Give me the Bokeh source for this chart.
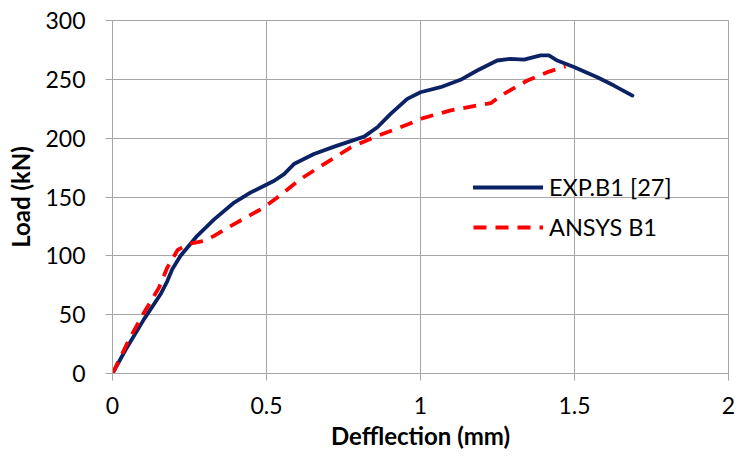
from bokeh.plotting import figure
from bokeh.models import Range1d, FixedTicker, Legend, LegendItem
from bokeh.embed import file_html
from bokeh.resources import INLINE

# Data
exp_x = [0, 0.043, 0.102, 0.156, 0.178, 0.194, 0.221, 0.275, 0.33, 0.395, 0.449,
         0.525, 0.557, 0.589, 0.654, 0.72, 0.817, 0.86, 0.903, 0.957, 1.0,
         1.065, 1.13, 1.184, 1.249, 1.292, 1.336, 1.39, 1.417, 1.444, 1.498,
         1.574, 1.628, 1.688]
exp_y = [0, 20.4, 46, 67.3, 78.6, 88.6, 100, 117, 131, 145.3, 153.9,
         163.8, 169.5, 178, 186.5, 192.8, 201.3, 209.3, 220.6, 233.4, 239,
         243.3, 249.6, 257.5, 266, 267.4, 266.8, 270.3, 270.3, 266, 260.4,
         251.8, 244.7, 236.2]

ansys_x = [0, 0.054, 0.102, 0.151, 0.178, 0.211, 0.243, 0.297, 0.33, 0.395,
           0.492, 0.535, 0.611, 0.687, 0.774, 0.849, 0.968, 1.011, 1.098,
           1.184, 1.228, 1.271, 1.347, 1.412, 1.471]
ansys_y = [0, 29, 51.6, 73, 90, 104.8, 109.9, 112.7, 117, 127,
           141.1, 149.6, 165.3, 178, 192.2, 200.7, 212.7, 217.3, 223.6,
           227.8, 229.7, 237.7, 249, 256.1, 261]

x_ticks = [0, 0.5, 1, 1.5, 2]
x_tick_labels = ["0", "0.5", "1", "1.5", "2"]
y_ticks = [0, 50, 100, 150, 200, 250, 300]

series_names = ["EXP.B1 [27]", "ANSYS B1"]

FONT = "Lato"
GRID = "#a6a6a6"

p = figure(width=738, height=466, output_backend="svg", toolbar_location=None,
           x_range=Range1d(0, 2), y_range=Range1d(0, 300),
           min_border_left=112, min_border_right=10, min_border_top=20,
           min_border_bottom=93)
p.background_fill_color = "white"
p.border_fill_color = "white"
p.outline_line_color = GRID
p.outline_line_width = 1

p.xaxis.ticker = FixedTicker(ticks=x_ticks)
p.yaxis.ticker = FixedTicker(ticks=y_ticks)
p.xaxis.major_label_overrides = {t: l for t, l in zip(x_ticks, x_tick_labels)}
p.xaxis.minor_tick_line_color = None
p.yaxis.minor_tick_line_color = None

for ax in (p.xaxis, p.yaxis):
    ax.axis_line_color = GRID
    ax.major_tick_line_color = GRID
    ax.major_tick_out = 7
    ax.major_tick_in = 0
    ax.major_label_text_font = FONT
    ax.major_label_text_font_size = "23px"
    ax.major_label_text_color = "black"
    ax.axis_label_text_font = FONT
    ax.axis_label_text_font_size = "24px"
    ax.axis_label_text_font_style = "bold"
    ax.axis_label_text_color = "black"

p.xaxis.axis_label = "Defflection (mm)"
p.yaxis.axis_label = "Load (kN)"
p.xaxis.major_label_standoff = 16
p.yaxis.major_label_standoff = 20
p.xaxis.axis_label_standoff = 4
p.yaxis.axis_label_standoff = 7

p.xgrid.grid_line_color = GRID
p.ygrid.grid_line_color = GRID
p.xgrid.grid_line_width = 1
p.ygrid.grid_line_width = 1

r1 = p.line(exp_x, exp_y, line_color="#0B2265", line_width=3.8,
            line_join="round", line_cap="round")
r2 = p.line(ansys_x, ansys_y, line_color="#FF0000", line_width=3.8,
            line_dash="13 9", line_join="round")

legend = Legend(items=[LegendItem(label=series_names[0], renderers=[r1]),
                       LegendItem(label=series_names[1], renderers=[r2])],
                location=(361, 126))
legend.background_fill_alpha = 0
legend.border_line_color = None
legend.padding = 0
legend.margin = 0
legend.spacing = 0
legend.glyph_width = 70
legend.glyph_height = 40
legend.label_height = 40
legend.label_standoff = 6
legend.label_text_font = FONT
legend.label_text_font_size = "23.5px"
legend.label_text_color = "black"
p.add_layout(legend)

open("out.html", "w").write(file_html(p, INLINE))
